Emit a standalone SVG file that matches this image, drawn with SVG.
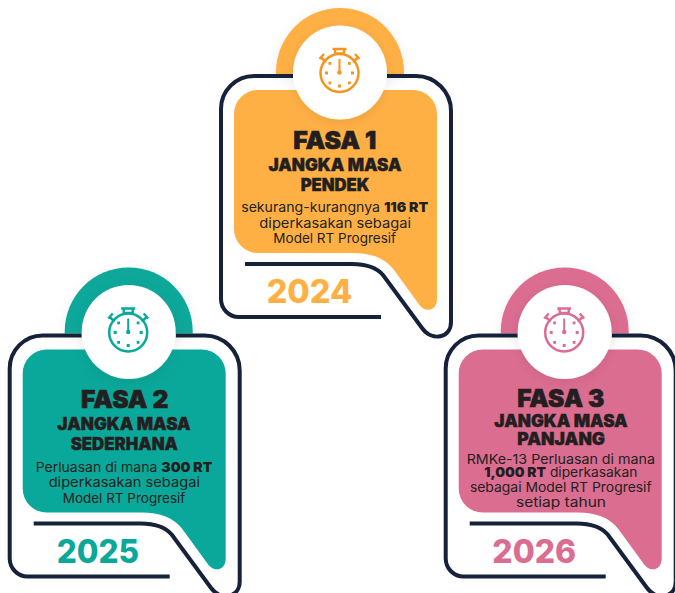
<svg xmlns="http://www.w3.org/2000/svg" width="675" height="593" viewBox="0 0 675 593">
<style>
text{font-family:Inter,"Liberation Sans",sans-serif;fill:#231f20;text-anchor:middle}
.h1{font-size:24px;font-weight:900;stroke:#231f20;stroke-width:.6px}
.h2{font-size:17px;font-weight:900;stroke:#231f20;stroke-width:.4px}
.b{font-size:13.500px;font-weight:400}
.bb{font-weight:900}
.y{font-size:32px;font-weight:800}
.line{fill:none;stroke:#16213a;stroke-width:4}
.c1{color:#ffb045}.c2{color:#0aa89a}.c3{color:#db6d91}
.i1{color:#f7931e}.i2{color:#0aa89a}.i3{color:#db6d91}
</style>
<defs>
<filter id="soft" x="-30%" y="-30%" width="160%" height="160%"><feDropShadow dx="0" dy="3" stdDeviation="6" flood-color="#000" flood-opacity=".08"/></filter>
<g id="arc"><path d="M276 74V72A64 64 0 0 1 404 72V74Z" fill="currentColor"/></g>
<g id="fill"><path d="M258 90H413A24 24 0 0 1 437 114V299C437 311 425 314 418 303L394 270C385 258 371 253 353 253H258A24 24 0 0 1 234 229V114A24 24 0 0 1 258 90Z" fill="currentColor"/></g>
<g id="outline"><path class="line" d="M293 76H254A33 33 0 0 0 221 109V299A18 18 0 0 0 239 317H381"/><path class="line" d="M387 76H416A35 35 0 0 1 451 111V322C451 338 432 342 422 328L383 275C376 267 366 264 352 264H245"/></g>
<g id="watch" fill="none" stroke="currentColor" stroke-width="2.500">
<circle cx="339.500" cy="73" r="19"/>
<path d="M332.500 49H346.500M335 49.500V53.500M344 49.500V53.500M335.500 53.500H343.500" stroke-width="2.400"/>
<path d="M321.500 58L326 62M319.500 59L324 54M357.500 58L353 62M359.500 59L355 54" stroke-width="2.400"/>
<path d="M339.500 59V71" stroke-width="2"/>
<circle cx="339.500" cy="72.500" r="2.200" fill="currentColor" stroke="none"/>
<g fill="currentColor" stroke="none">
<rect x="338" y="84.500" width="3" height="3"/><rect x="325" y="71.500" width="3" height="3"/><rect x="351" y="71.500" width="3" height="3"/>
<rect x="328.500" y="62" width="2.800" height="2.800"/><rect x="348" y="62" width="2.800" height="2.800"/>
<rect x="328.500" y="81.500" width="2.800" height="2.800"/><rect x="348" y="81.500" width="2.800" height="2.800"/>
</g></g>
</defs>

<g id="fasa-1">
<g class="c1"><use href="#arc" filter="url(#soft)"/><use href="#fill"/></g>
<use href="#outline"/>
<circle cx="340" cy="72.500" r="47" fill="#fff" filter="url(#soft)"/>
<use href="#watch" class="i1"/>
<text class="h1" x="334.700" y="149" textLength="83" lengthAdjust="spacingAndGlyphs">FASA 1</text>
<text class="h2" x="335" y="170.700" textLength="133" lengthAdjust="spacingAndGlyphs">JANGKA MASA</text>
<text class="h2" x="335" y="191" textLength="68.700" lengthAdjust="spacingAndGlyphs">PENDEK</text>
<text class="b" x="334.700" y="212.300" textLength="187" lengthAdjust="spacingAndGlyphs">sekurang-kurangnya <tspan class="bb">116 RT</tspan></text>
<text class="b" x="335.200" y="227.700" textLength="151.700" lengthAdjust="spacingAndGlyphs">diperkasakan sebagai</text>
<text class="b" x="334.700" y="243.300" textLength="122.700" lengthAdjust="spacingAndGlyphs">Model RT Progresif</text>
<text class="y" x="309.500" y="302.700" textLength="85.600" lengthAdjust="spacingAndGlyphs" style="fill:#ffb045">2024</text>
</g>

<g id="fasa-2">
<g transform="translate(-211.300 259.500)">
<g class="c2"><use href="#arc" filter="url(#soft)"/><use href="#fill"/></g>
<use href="#outline"/>
<circle cx="340" cy="72.500" r="47" fill="#fff" filter="url(#soft)"/>
<use href="#watch" class="i2"/>
</g>
<text class="h1" x="124.700" y="408.300" textLength="87.300" lengthAdjust="spacingAndGlyphs">FASA 2</text>
<text class="h2" x="124" y="430" textLength="133.400" lengthAdjust="spacingAndGlyphs">JANGKA MASA</text>
<text class="h2" x="124.300" y="450.300" textLength="107.300" lengthAdjust="spacingAndGlyphs">SEDERHANA</text>
<text class="b" x="124" y="472.300" textLength="176.600" lengthAdjust="spacingAndGlyphs">Perluasan di mana <tspan class="bb">300 RT</tspan></text>
<text class="b" x="124.300" y="486.700" textLength="151.300" lengthAdjust="spacingAndGlyphs">diperkasakan sebagai</text>
<text class="b" x="124" y="502.700" textLength="122.600" lengthAdjust="spacingAndGlyphs">Model RT Progresif</text>
<text class="y" x="97.800" y="562.700" textLength="82.300" lengthAdjust="spacingAndGlyphs" style="fill:#0aa89a">2025</text>
</g>

<g id="fasa-3">
<g transform="translate(224.700 259.500)">
<g class="c3"><use href="#arc" filter="url(#soft)"/><use href="#fill"/></g>
<use href="#outline"/>
<circle cx="340" cy="72.500" r="47" fill="#fff" filter="url(#soft)"/>
<use href="#watch" class="i3"/>
</g>
<text class="h1" x="560.800" y="406.700" textLength="87" lengthAdjust="spacingAndGlyphs">FASA 3</text>
<text class="h2" x="561" y="427.300" textLength="133.400" lengthAdjust="spacingAndGlyphs">JANGKA MASA</text>
<text class="h2" x="561.200" y="445" textLength="87.700" lengthAdjust="spacingAndGlyphs">PANJANG</text>
<text class="b" x="560.800" y="464" textLength="188.300" lengthAdjust="spacingAndGlyphs">RMKe-13 Perluasan di mana</text>
<text class="b" x="560.800" y="477.300" textLength="153" lengthAdjust="spacingAndGlyphs"><tspan class="bb">1,000 RT</tspan> diperkasakan</text>
<text class="b" x="560.800" y="491.700" textLength="181.700" lengthAdjust="spacingAndGlyphs">sebagai Model RT Progresif</text>
<text class="b" x="561" y="506.700" textLength="90" lengthAdjust="spacingAndGlyphs">setiap tahun</text>
<text class="y" x="534.200" y="562.700" textLength="83.700" lengthAdjust="spacingAndGlyphs" style="fill:#db6d91">2026</text>
</g>
</svg>
